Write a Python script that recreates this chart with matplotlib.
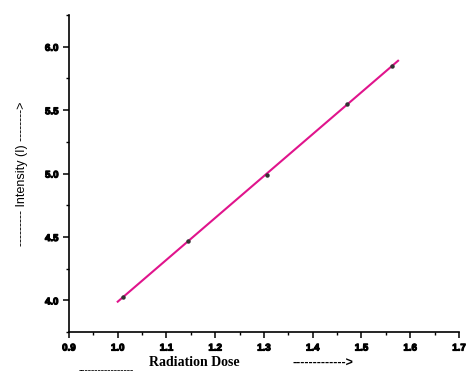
import numpy as np
import matplotlib
matplotlib.use("Agg")
import matplotlib.pyplot as plt
import matplotlib.patheffects as pe
from matplotlib.ticker import MultipleLocator

# measured points
dose = [1.011, 1.145, 1.306, 1.470, 1.563]
intensity = [4.03, 4.47, 4.99, 5.55, 5.85]

# linear fit drawn over the dose range
fit_x = [1.0, 1.575]

fig = plt.figure(figsize=(4.66, 3.77), dpi=100)
ax = fig.add_axes([0.148, 0.119, 0.837, 0.841])

k, b = np.polyfit(dose, intensity, 1)
xs = np.array(fit_x)
ax.plot(xs, k * xs + b, color="#e0148c", lw=1.5, zorder=2)
ax.plot(dose, intensity, "o", color="#333333", ms=2.2, zorder=3)

ax.set_xlim(0.9, 1.7)
ax.set_ylim(3.75, 6.25)
ax.xaxis.set_major_locator(MultipleLocator(0.1))
ax.xaxis.set_minor_locator(MultipleLocator(0.05))
ax.yaxis.set_minor_locator(MultipleLocator(0.25))
ax.set_yticks([4.0, 4.5, 5.0, 5.5, 6.0])

for s in ["top", "right"]:
    ax.spines[s].set_visible(False)
for s in ["left", "bottom"]:
    ax.spines[s].set_linewidth(1.2)

ax.tick_params(which="major", direction="out", length=4, width=1.1,
               labelsize=7)
ax.tick_params(which="minor", direction="out", length=2.5, width=1.0)
heavy = [pe.withStroke(linewidth=0.8, foreground="black")]
for lab in ax.get_xticklabels() + ax.get_yticklabels():
    lab.set_fontweight("bold")
    lab.set_family("Liberation Sans")
    lab.set_path_effects(heavy)

ax.set_ylabel("--------- Intensity (I) -------->", family="Liberation Sans",
              fontsize=9, labelpad=12)

fig.text(0.228, 0.006, "-----------------", family="Liberation Serif",
         fontsize=7, ha="center", va="bottom")
fig.text(0.417, 0.02, "Radiation Dose", family="Liberation Serif",
         fontweight="bold", fontsize=10, ha="center", va="bottom")
fig.text(0.693, 0.02, "------------->", family="Liberation Sans",
         fontweight="bold", fontsize=9, ha="center", va="bottom")

fig.savefig("out.png", dpi=100)
